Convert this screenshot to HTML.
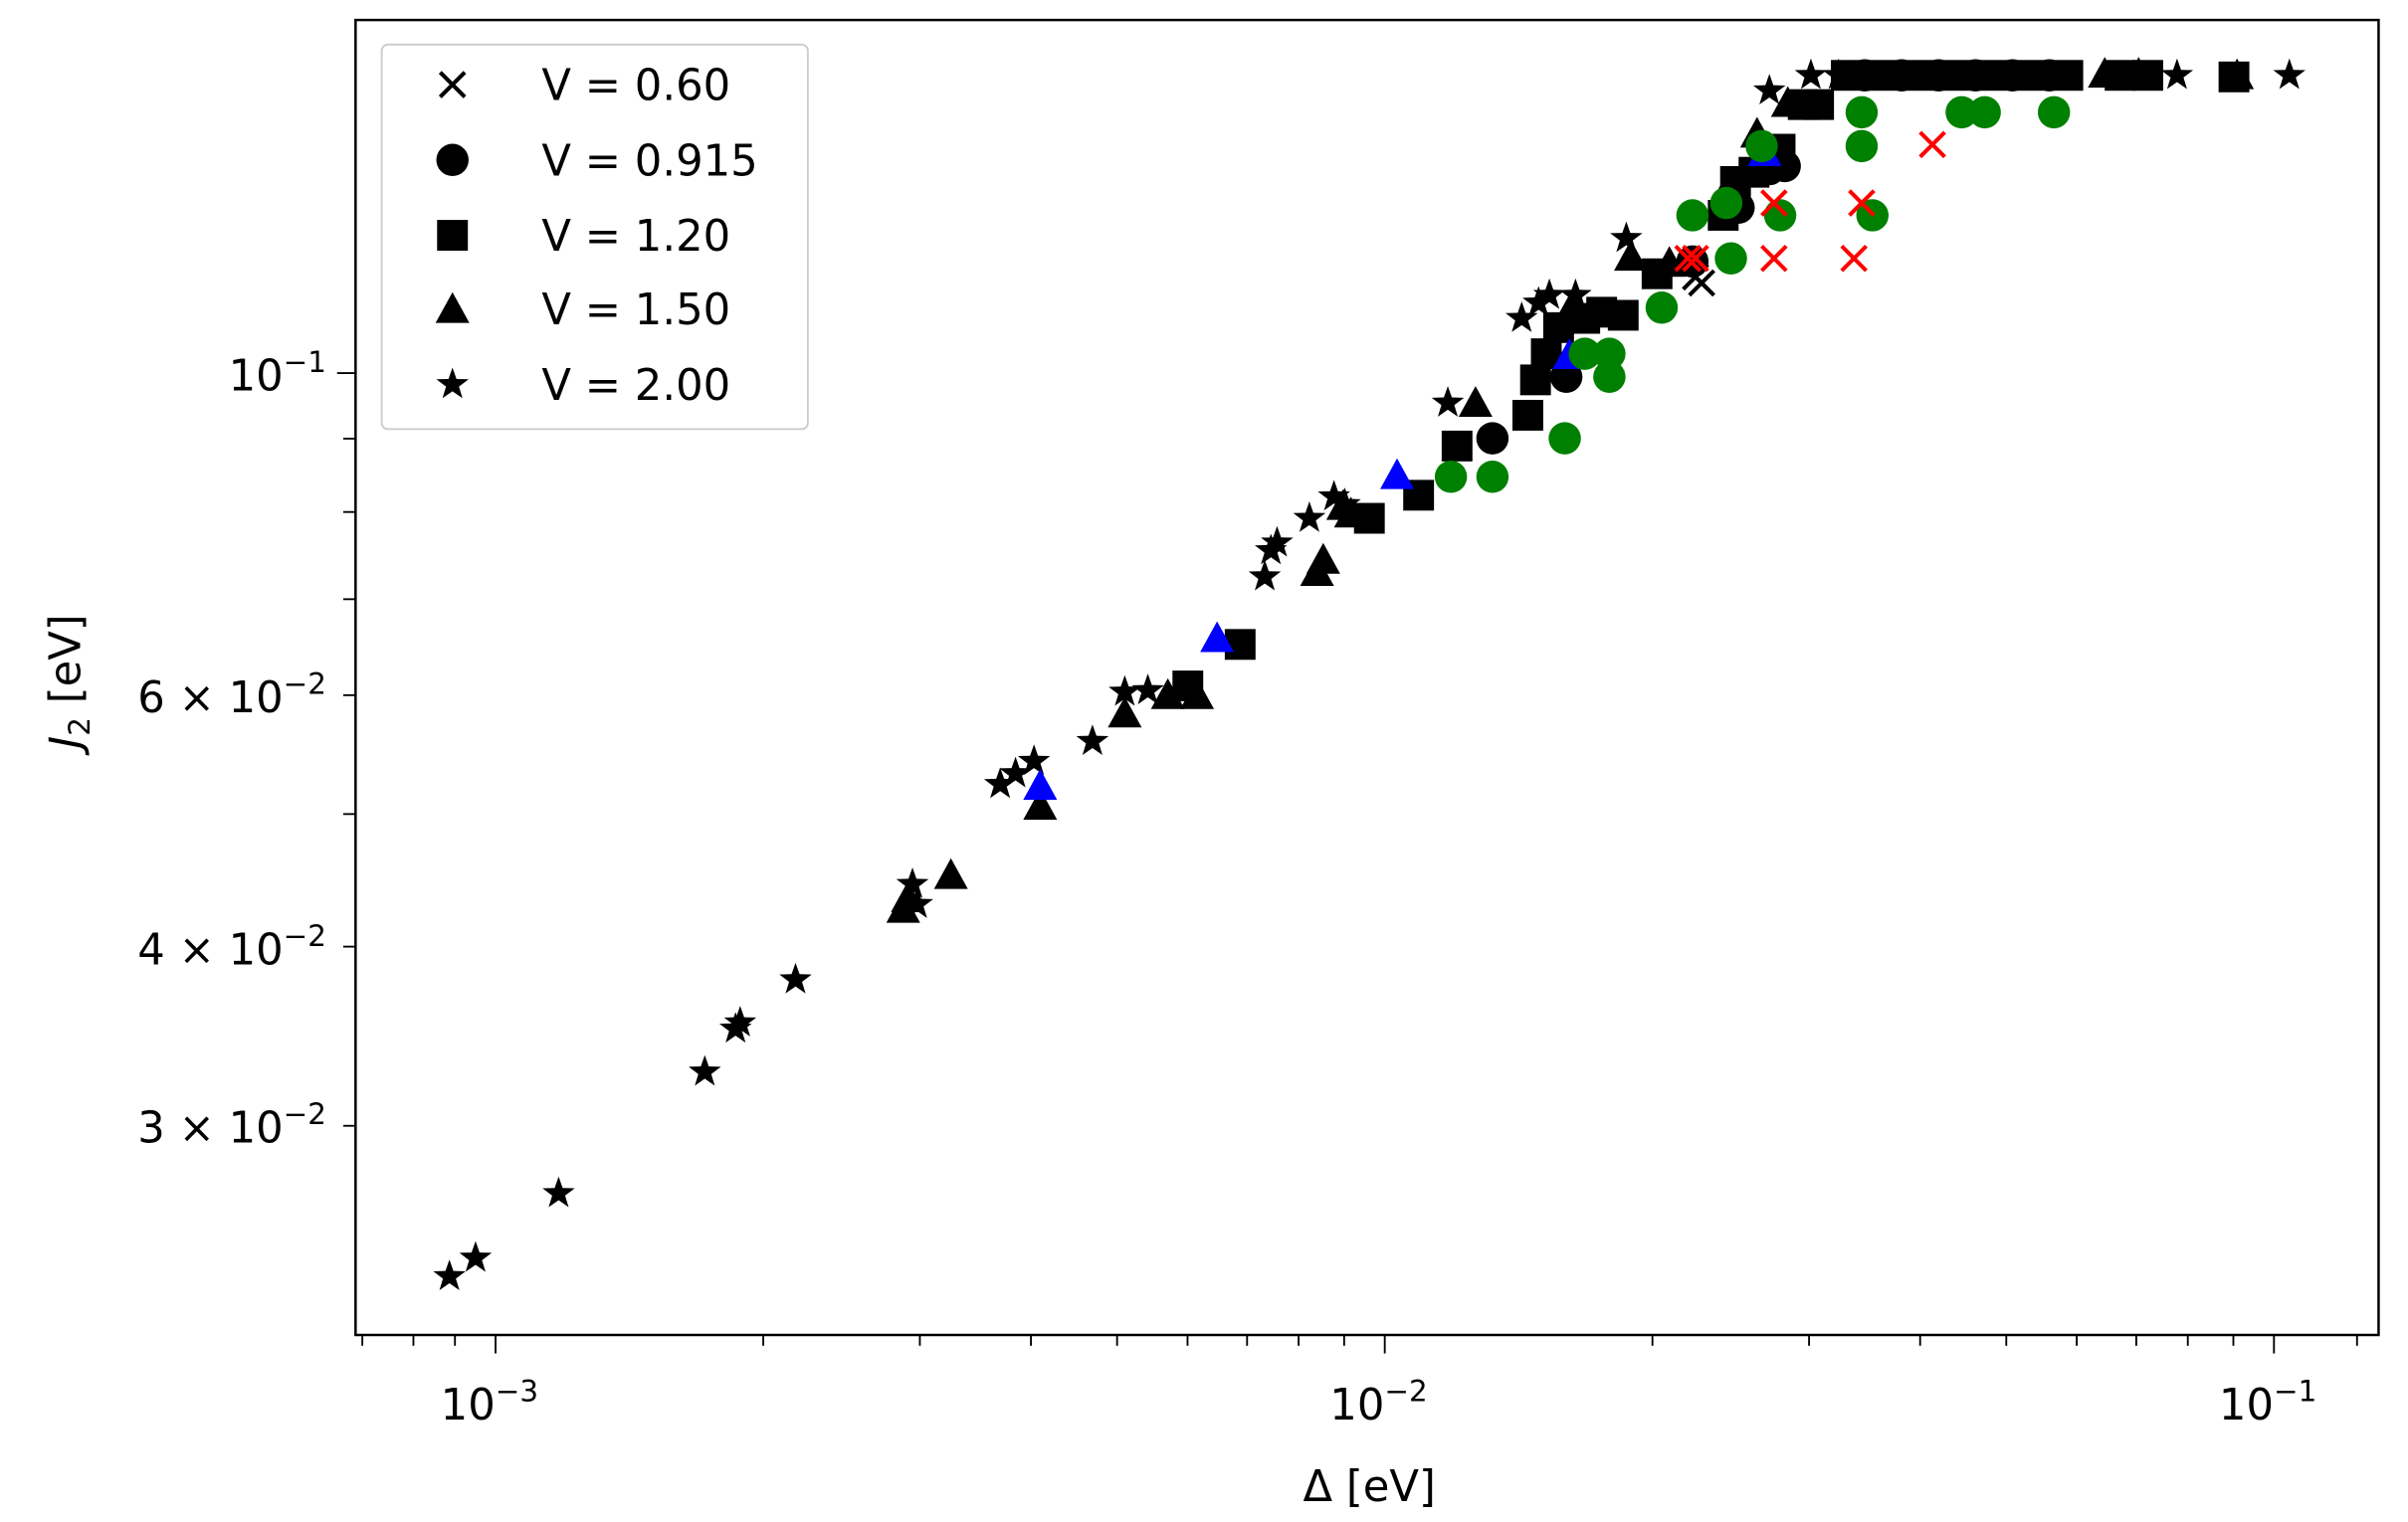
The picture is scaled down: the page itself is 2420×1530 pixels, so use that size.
<!DOCTYPE html>
<html><head><meta charset="utf-8"><style>
html,body{margin:0;padding:0;background:#fff;}
svg{display:block;}
text{font-family:"DejaVu Sans","Liberation Sans",sans-serif;fill:#000;}
</style></head><body>
<svg width="2420" height="1530" viewBox="0 0 1565 989.6" xmlns="http://www.w3.org/2000/svg">
<defs>
<path id="st" d="M0,-11 L2.6,-3.6 L10.5,-3.4 L4.2,1.4 L6.5,8.9 L0,4.4 L-6.5,8.9 L-4.2,1.4 L-10.5,-3.4 L-2.6,-3.6 Z"/>
<path id="tr" d="M0,-12 L11,8 L-11,8 Z"/>
<rect id="sq" x="-10" y="-10" width="20" height="20"/>
<circle id="ci" r="10.5"/>
<path id="xx" d="M-8,-8 L8,8 M-8,8 L8,-8" stroke-width="2.6" fill="none"/>
</defs>
<rect x="0" y="0" width="1565" height="989.6" fill="#fff"/>

<g fill="#000">
<g>
<use href="#sq" x="1200" y="49"/><use href="#ci" x="1212" y="49"/><use href="#sq" x="1224" y="49"/><use href="#ci" x="1236" y="49"/><use href="#sq" x="1248" y="49"/><use href="#ci" x="1260" y="49"/><use href="#sq" x="1272" y="49"/><use href="#ci" x="1284" y="49"/><use href="#sq" x="1296" y="49"/><use href="#ci" x="1308" y="49"/><use href="#sq" x="1320" y="49"/><use href="#ci" x="1332" y="49"/><use href="#sq" x="1344" y="49"/><use href="#tr" x="1368" y="49"/><use href="#sq" x="1378" y="49"/><use href="#tr" x="1390" y="49"/><use href="#sq" x="1396" y="49"/>
<use href="#sq" x="1452" y="50"/><use href="#tr" x="1454" y="50"/>
<use href="#st" x="1150" y="59"/><use href="#st" x="1177" y="49"/><use href="#st" x="1195" y="49"/><use href="#st" x="1415" y="49"/><use href="#st" x="1488" y="49"/>
</g>
<use href="#st" x="292" y="830"/><use href="#st" x="309" y="818"/><use href="#st" x="363" y="776"/><use href="#st" x="458" y="697"/><use href="#st" x="478" y="669"/><use href="#st" x="481" y="665"/><use href="#st" x="517" y="637"/><use href="#st" x="593" y="575"/><use href="#st" x="596" y="588"/><use href="#st" x="650" y="510"/><use href="#st" x="660" y="503"/><use href="#st" x="672" y="495"/><use href="#st" x="710" y="482"/><use href="#st" x="731" y="450"/><use href="#st" x="746" y="449"/><use href="#st" x="822" y="375"/><use href="#st" x="826" y="358"/><use href="#st" x="830" y="353"/><use href="#st" x="851" y="337"/><use href="#st" x="867" y="323"/><use href="#st" x="874" y="328"/><use href="#st" x="941" y="262"/><use href="#st" x="989" y="207"/><use href="#st" x="1000" y="197"/><use href="#st" x="1007" y="192"/><use href="#st" x="1024" y="192"/><use href="#st" x="1057" y="155"/>
<use href="#tr" x="587" y="592"/><use href="#tr" x="590" y="585"/><use href="#tr" x="618" y="570"/><use href="#tr" x="676" y="525"/><use href="#tr" x="731" y="465"/><use href="#tr" x="759" y="453"/><use href="#tr" x="778" y="453"/><use href="#tr" x="856" y="373"/><use href="#tr" x="860" y="365"/><use href="#tr" x="873" y="330"/><use href="#tr" x="878" y="335"/><use href="#tr" x="959" y="263"/><use href="#tr" x="1023" y="198"/><use href="#tr" x="1060" y="168"/><use href="#tr" x="1085" y="172"/><use href="#tr" x="1125" y="120"/><use href="#tr" x="1142" y="88"/><use href="#tr" x="1162" y="68"/>
<use href="#sq" x="772" y="446"/><use href="#sq" x="806" y="419"/><use href="#sq" x="890" y="337"/><use href="#sq" x="922" y="322"/><use href="#sq" x="947" y="290"/><use href="#sq" x="993" y="270"/><use href="#sq" x="998" y="247"/><use href="#sq" x="1005" y="230"/><use href="#sq" x="1013" y="213"/><use href="#sq" x="1030" y="207"/><use href="#sq" x="1041" y="203"/><use href="#sq" x="1055" y="205"/><use href="#sq" x="1077" y="178"/><use href="#sq" x="1120" y="140"/><use href="#sq" x="1128" y="118"/><use href="#sq" x="1140" y="112"/><use href="#sq" x="1157" y="97"/><use href="#sq" x="1182" y="68"/><use href="#sq" x="1172" y="68"/>
<use href="#ci" x="970" y="285"/><use href="#ci" x="1018" y="245"/><use href="#ci" x="1100" y="170"/><use href="#ci" x="1130" y="135"/><use href="#ci" x="1150" y="110"/><use href="#ci" x="1160" y="108"/>
</g>
<g fill="#0000ff">
<use href="#tr" x="908" y="310"/><use href="#tr" x="791" y="416"/><use href="#tr" x="676" y="512"/><use href="#tr" x="1020" y="232"/><use href="#tr" x="1147" y="100"/>
</g>
<g fill="#008000">
<use href="#ci" x="943" y="310"/><use href="#ci" x="970" y="310"/><use href="#ci" x="1017" y="285"/><use href="#ci" x="1030" y="230"/><use href="#ci" x="1046" y="245"/><use href="#ci" x="1046" y="230"/><use href="#ci" x="1080" y="200"/><use href="#ci" x="1100" y="140"/><use href="#ci" x="1125" y="168"/><use href="#ci" x="1122" y="132"/><use href="#ci" x="1157" y="140"/><use href="#ci" x="1145" y="95"/><use href="#ci" x="1210" y="73"/><use href="#ci" x="1210" y="95"/><use href="#ci" x="1217" y="140"/><use href="#ci" x="1275" y="73"/><use href="#ci" x="1290" y="73"/><use href="#ci" x="1335" y="73"/>
</g>
<g stroke="#000"><use href="#xx" x="1102" y="180"/><use href="#xx" x="1106" y="184"/></g>
<g stroke="#ff0000">
<use href="#xx" x="1097" y="168"/><use href="#xx" x="1102" y="168"/><use href="#xx" x="1153" y="168"/><use href="#xx" x="1205" y="168"/><use href="#xx" x="1153" y="132"/><use href="#xx" x="1210" y="132"/><use href="#xx" x="1256" y="94"/>
</g>

<rect x="231" y="13" width="1315" height="855" fill="none" stroke="#000" stroke-width="1.6"/>

<g stroke="#000" stroke-width="1.2">
<line x1="322" y1="868" x2="322" y2="880"/><line x1="900" y1="868" x2="900" y2="880"/><line x1="1478" y1="868" x2="1478" y2="880"/>
<line x1="235.4" y1="868" x2="235.4" y2="875"/><line x1="268.6" y1="868" x2="268.6" y2="875"/><line x1="295.6" y1="868" x2="295.6" y2="875"/>
<line x1="496" y1="868" x2="496" y2="875"/><line x1="597.8" y1="868" x2="597.8" y2="875"/><line x1="670" y1="868" x2="670" y2="875"/><line x1="726" y1="868" x2="726" y2="875"/><line x1="771.8" y1="868" x2="771.8" y2="875"/><line x1="810.5" y1="868" x2="810.5" y2="875"/><line x1="844" y1="868" x2="844" y2="875"/><line x1="873.6" y1="868" x2="873.6" y2="875"/>
<line x1="1074" y1="868" x2="1074" y2="875"/><line x1="1175.8" y1="868" x2="1175.8" y2="875"/><line x1="1248" y1="868" x2="1248" y2="875"/><line x1="1304" y1="868" x2="1304" y2="875"/><line x1="1349.8" y1="868" x2="1349.8" y2="875"/><line x1="1388.5" y1="868" x2="1388.5" y2="875"/><line x1="1422" y1="868" x2="1422" y2="875"/><line x1="1451.6" y1="868" x2="1451.6" y2="875"/>
<line x1="1532" y1="868" x2="1532" y2="875"/>
</g>
<g font-size="28" text-anchor="middle">
<text x="318" y="923">10<tspan dy="-12" font-size="19">−3</tspan></text>
<text x="896" y="923">10<tspan dy="-12" font-size="19">−2</tspan></text>
<text x="1474" y="923">10<tspan dy="-12" font-size="19">−1</tspan></text>
</g>
<text x="890" y="976" font-size="28" text-anchor="middle">Δ [eV]</text>

<g stroke="#000" stroke-width="1.2">
<line x1="219" y1="242.6" x2="231" y2="242.6"/>
<line x1="223" y1="452" x2="231" y2="452"/><line x1="223" y1="615.5" x2="231" y2="615.5"/><line x1="223" y1="732" x2="231" y2="732"/>
<line x1="223" y1="529.3" x2="231" y2="529.3"/><line x1="223" y1="389.6" x2="231" y2="389.6"/><line x1="223" y1="332.9" x2="231" y2="332.9"/><line x1="223" y1="285.2" x2="231" y2="285.2"/>
</g>
<g font-size="28" text-anchor="end">
<text x="212" y="254">10<tspan dy="-12" font-size="19">−1</tspan></text>
<text x="212" y="463">6 × 10<tspan dy="-12" font-size="19">−2</tspan></text>
<text x="212" y="627">4 × 10<tspan dy="-12" font-size="19">−2</tspan></text>
<text x="212" y="743">3 × 10<tspan dy="-12" font-size="19">−2</tspan></text>
</g>
<text transform="translate(52,443) rotate(-90)" font-size="28" text-anchor="middle"><tspan font-style="italic">J</tspan><tspan font-size="19" dy="6">2</tspan><tspan dy="-6"> [eV]</tspan></text>

<rect x="248" y="29" width="277" height="250" rx="4" fill="#fff" fill-opacity="0.85" stroke="#cccccc" stroke-width="1.2"/>
<g fill="#000">
<use href="#xx" x="294" y="55" stroke="#000"/>
<use href="#ci" x="294" y="104"/>
<use href="#sq" x="294" y="153"/>
<use href="#tr" x="294" y="202"/>
<use href="#st" x="294" y="250"/>
</g>
<g font-size="28">
<text x="352" y="65">V = 0.60</text>
<text x="352" y="114">V = 0.915</text>
<text x="352" y="163">V = 1.20</text>
<text x="352" y="211">V = 1.50</text>
<text x="352" y="260">V = 2.00</text>
</g>
</svg>
</body></html>
